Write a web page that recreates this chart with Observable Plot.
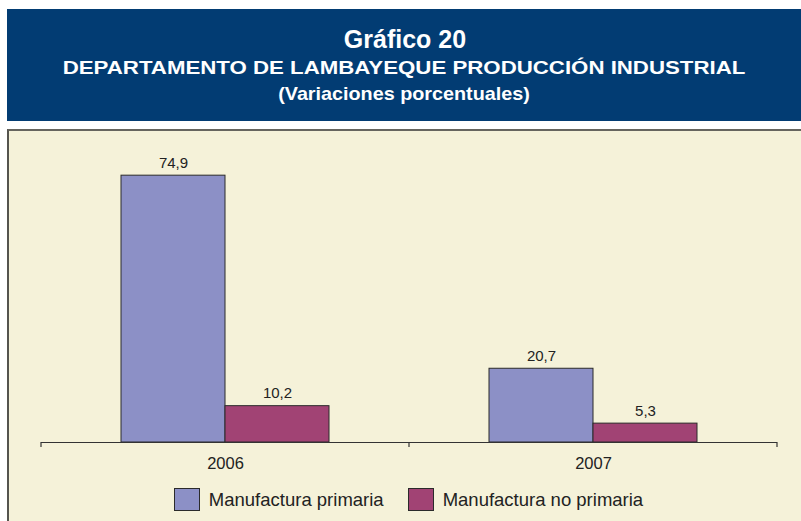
<!DOCTYPE html>
<html>
<head>
<meta charset="utf-8">
<script src="https://cdn.jsdelivr.net/npm/d3@7"></script>
<script src="https://cdn.jsdelivr.net/npm/@observablehq/plot@0.6"></script>
<style>
  html, body { margin: 0; padding: 0; background: #ffffff; }
  body { width: 801px; height: 521px; position: relative; overflow: hidden; font-family: "Liberation Sans", Arial, sans-serif; }
  #header { position: absolute; left: 7px; top: 9px; width: 794px; height: 112px; background: #023c73; }
  #header svg { display: block; }
  #panel { position: absolute; left: 7px; top: 129px; width: 794px; height: 392px; box-sizing: border-box;
           background: #f5f2d9; border-top: 2px solid #66655e; border-left: 2px solid #55544e; }
  #chart svg { display: block; }
  #legend { position: absolute; left: 31px; width: 737px; top: 357px; display: flex; justify-content: center; align-items: center;
            font-size: 18.5px; color: #222; }
  .item { display: flex; align-items: center; }
  .item + .item { margin-left: 24px; }
  .swatch { width: 24px; height: 21px; border: 1.5px solid #2b2b2b; margin-right: 9px; }
</style>
</head>
<body>
<div id="header">
  <svg width="794" height="112">
    <text x="398" y="39" text-anchor="middle" fill="#fff" font-weight="bold" font-size="25" font-family="Liberation Sans, Arial, sans-serif">Gráfico 20</text>
    <text transform="translate(397,64.5) scale(1.19,1)" x="0" y="0" text-anchor="middle" fill="#fff" font-weight="bold" font-size="18.7" font-family="Liberation Sans, Arial, sans-serif">DEPARTAMENTO DE LAMBAYEQUE PRODUCCIÓN INDUSTRIAL</text>
    <text transform="translate(397,90.5) scale(1.03,1)" x="0" y="0" text-anchor="middle" fill="#fff" font-weight="bold" font-size="19.2" font-family="Liberation Sans, Arial, sans-serif">(Variaciones porcentuales)</text>
  </svg>
</div>
<div id="panel">
  <div id="chart"></div>
  <div id="legend"></div>
</div>
<script>
const years = ["2006", "2007"];
const series = ["Manufactura primaria", "Manufactura no primaria"];
const primaria = [74.9, 20.7];
const noPrimaria = [10.2, 5.3];
const colors = ["#8c90c6", "#a14374"];

const data = years.flatMap((y, i) => [
  {year: y, series: series[0], value: primaria[i]},
  {year: y, series: series[1], value: noPrimaria[i]}
]);

const fmt = v => v.toFixed(1).replace(".", ",");

const chart = Plot.plot({
  width: 792,
  height: 345,
  marginLeft: 31,
  marginRight: 24,
  marginTop: 26,
  marginBottom: 34,
  style: {background: "transparent", fontFamily: "Liberation Sans, Arial, sans-serif", fontSize: "16.5px", color: "#222"},
  fx: {domain: years, padding: 0, label: null},
  x: {domain: series, paddingInner: 0, paddingOuter: 0.766, axis: null},
  y: {domain: [0, 80], axis: null},
  color: {domain: series, range: colors},
  marks: [
    Plot.barY(data, {fx: "year", x: "series", y: "value", fill: "series", stroke: "#2b2b2b", strokeWidth: 1}),
    Plot.ruleY([0], {stroke: "#333", strokeWidth: 1.2}),
    Plot.text(data, {fx: "year", x: "series", y: "value", text: d => fmt(d.value), lineAnchor: "bottom", dy: -8,
      fontSize: 15, fontFamily: "Liberation Sans Narrow, Arial Narrow, Liberation Sans, sans-serif", fill: "#222"}),
    Plot.axisFx({anchor: "bottom", tickSize: 0, tickPadding: 15, label: null, fontSize: 16.5, fill: "#222"})
  ]
});
document.getElementById("chart").appendChild(chart);

// boundary ticks under the axis line, placed from the library's own scales
const fxs = chart.scale("fx");
const ys = chart.scale("y");
const y0 = ys.apply(0);
const bounds = years.map(y => fxs.apply(y)).concat([fxs.apply(years[years.length - 1]) + fxs.bandwidth]);
d3.select(chart).append("g")
  .selectAll("line").data(bounds).join("line")
  .attr("x1", d => d).attr("x2", d => d)
  .attr("y1", y0).attr("y2", y0 + 5)
  .attr("stroke", "#333").attr("stroke-width", 1.2);

// legend
const legend = d3.select("#legend");
series.forEach((s, i) => {
  const item = legend.append("div").attr("class", "item");
  item.append("div").attr("class", "swatch").style("background", colors[i]);
  item.append("span").text(s);
});
</script>
</body>
</html>
